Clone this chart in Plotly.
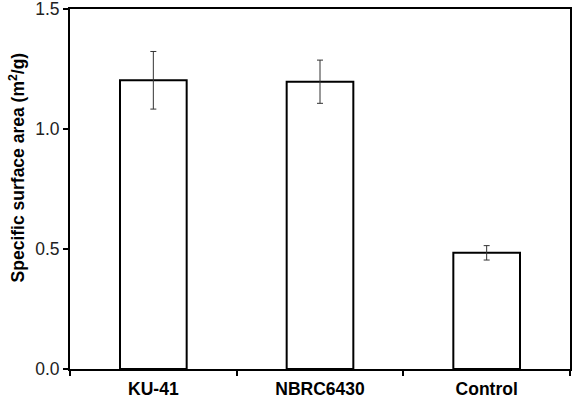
import plotly.graph_objects as go

categories = ["KU-41", "NBRC6430", "Control"]
values = [1.203, 1.197, 0.484]
errors = [0.12, 0.09, 0.03]
y_ticks = [0.0, 0.5, 1.0, 1.5]
y_tick_labels = ["0.0", "0.5", "1.0", "1.5"]
y_title = "<b>Specific surface area (m<sup>2</sup>/g)</b>"

FONT = "Liberation Sans, Arial, sans-serif"

fig = go.Figure()
fig.add_trace(go.Bar(
    x=categories, y=values,
    width=0.4,
    marker=dict(color="white", line=dict(color="black", width=2)),
    error_y=dict(type="data", array=errors, visible=True, color="#333333", thickness=1, width=3),
))

fig.update_layout(
    width=576, height=415,
    margin=dict(l=70, r=6, t=9, b=46),
    plot_bgcolor="white", paper_bgcolor="white",
    font=dict(family=FONT, color="black", size=17.5),
    showlegend=False,
)
fig.update_xaxes(
    showline=True, linecolor="black", linewidth=2, mirror=True,
    ticks="outside", tickson="boundaries", ticklen=5, tickwidth=1.5, tickcolor="black",
    tickfont=dict(size=17.5, family=FONT, weight="bold", color="black"),
    ticklabelstandoff=3, automargin=False,
    showgrid=False,
)
fig.update_yaxes(
    range=[0, 1.5], tickvals=y_ticks, ticktext=y_tick_labels,
    showline=True, linecolor="black", linewidth=2, mirror=True,
    ticks="outside", ticklen=5, tickwidth=1.5, tickcolor="black",
    tickfont=dict(size=17.5, family=FONT, color="#222222"),
    ticklabeloverflow="allow", automargin=False,
    showgrid=False, zeroline=False,
)
fig.add_annotation(
    text=y_title, textangle=-90, showarrow=False,
    xref="paper", yref="paper", x=-0.106, y=0.56,
    xanchor="center", yanchor="middle",
    font=dict(size=17.5, family=FONT, color="black"),
)
fig.write_html("out.html")
